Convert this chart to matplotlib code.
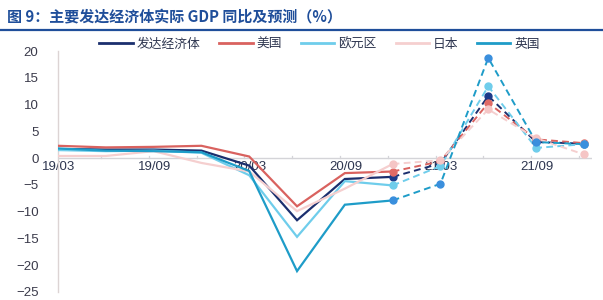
import matplotlib
matplotlib.use("Agg")
import matplotlib.pyplot as plt
from matplotlib.lines import Line2D
import matplotlib.transforms as mtransforms

plt.rcParams['font.family'] = ['Noto Sans CJK SC', 'DejaVu Sans']

quarters = ['19/03', '19/06', '19/09', '19/12', '20/03', '20/06',
            '20/09', '20/12', '21/03', '21/06', '21/09', '21/12']
tick_labels = ['19/03', '19/09', '20/03', '20/09', '21/03', '21/09']

advanced = [1.7, 1.6, 1.6, 1.4, -1.4, -11.6, -3.9, -3.5, -1.0, 11.6, 3.0, 2.7]
usa      = [2.3, 2.0, 2.1, 2.3, 0.3, -9.0, -2.8, -2.5, -0.6, 10.3, 3.5, 2.8]
euro     = [1.5, 1.3, 1.4, 1.0, -3.2, -14.7, -4.3, -5.1, -1.5, 13.4, 1.9, 2.6]
japan    = [0.4, 0.4, 1.3, -0.9, -2.5, -9.9, -5.7, -1.1, -0.4, 9.1, 3.7, 0.7]
uk       = [1.8, 1.4, 1.3, 1.1, -2.4, -21.1, -8.7, -7.9, -4.8, 18.7, 3.0, 2.6]

names = ['发达经济体', '美国', '欧元区', '日本', '英国']
series = [advanced, usa, euro, japan, uk]
line_colors = ['#1B2F6E', '#D9625F', '#6FCDEB', '#F5CFCF', '#1E9CC8']
marker_colors = ['#1B3A8A', '#E06A66', '#6FCDEB', '#F5C5C5', '#3A8FDD']
forecast_start = 7  # 20/12 onwards dashed

fig = plt.figure(figsize=(6.03, 3.0), dpi=100)
W, H = 603, 300
left_px, right_px, top_px, bottom_px = 58, 592, 51, 292
ax = fig.add_axes([left_px / W, 1 - bottom_px / H,
                   (right_px - left_px) / W, (bottom_px - top_px) / H])

x = list(range(len(quarters)))
for vals, lc, mc in zip(series, line_colors, marker_colors):
    ax.plot(x[:forecast_start + 1], vals[:forecast_start + 1], color=lc,
            lw=1.6, solid_joinstyle='miter', zorder=3)
    ax.plot(x[forecast_start:], vals[forecast_start:], color=lc, lw=1.4,
            ls=(0, (3.5, 2.2)), zorder=3)
    ax.plot(x[forecast_start:], vals[forecast_start:], ls='none', marker='o',
            ms=5, color=mc, zorder=4)

ax.set_xlim(0, 11.17)
ax.set_ylim(-25, 20)
ax.set_yticks([20, 15, 10, 5, 0, -5, -10, -15, -20, -25])
ax.tick_params(axis='y', length=0, pad=14, labelsize=9.5, labelcolor='#3A3A4A')
for lab in ax.get_yticklabels():
    lab.set_family(['Liberation Sans'])
ax.set_xticks([])

for s in ['top', 'right', 'bottom']:
    ax.spines[s].set_visible(False)
ax.spines['left'].set_color('#DCD4D4')
ax.spines['left'].set_linewidth(1.0)

ax.axhline(0, color='#D4D4D8', lw=1.0, zorder=1)
for xi in x:
    ax.plot([xi - 0.1, xi - 0.1], [0, 0.45], color='#D4D4D8', lw=0.9, zorder=1)

trans = mtransforms.blended_transform_factory(ax.transData, ax.transData)
for i, lab in enumerate(tick_labels):
    ax.text(i * 2 + 0.02, -0.5, lab, transform=trans, ha='center', va='top',
            fontsize=9.5, color='#2E3650', family=['Liberation Sans'], zorder=2)

handles = [Line2D([0], [0], color=c, lw=2.0) for c in line_colors]
fig.legend(handles, names, loc='center', bbox_to_anchor=(0.53, 0.853),
           ncol=5, frameon=False, handlelength=2.6, handletextpad=0.3,
           columnspacing=1.5, prop={'size': 9.2}, labelcolor='#2E3650')

fig.text(0.012, 0.945, '图 9：主要发达经济体实际 GDP 同比及预测（%）',
         fontsize=10.8, fontweight='bold', color='#1F4E9A', va='center')
fig.add_artist(Line2D([0, 1], [1 - 30 / H, 1 - 30 / H], color='#1F4E9A',
                      lw=1.6, transform=fig.transFigure))

fig.savefig('out.png', dpi=100)
